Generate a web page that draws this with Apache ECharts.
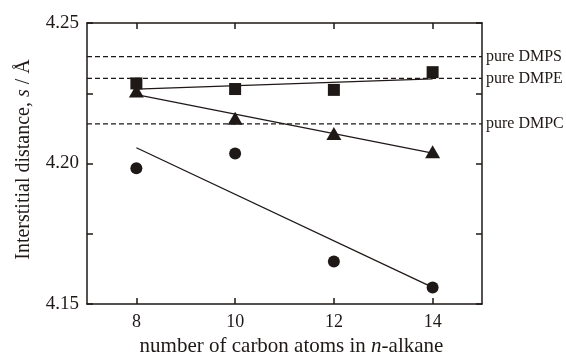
<!DOCTYPE html>
<html>
<head>
<meta charset="utf-8">
<script src="https://cdn.jsdelivr.net/npm/echarts@6/dist/echarts.min.js"></script>
<style>
  html, body { margin: 0; padding: 0; background: #fff; }
</style>
</head>
<body>
<div id="chart" style="width: 566px;height: 358px;"></div>
<script>
// carbon number of the n-alkane
const carbons = [8, 10, 12, 14];
const xTicks = [8, 10, 12, 14];
const yLabels = [4.15, 4.20, 4.25];

// interstitial distance s (Å)
const dmpeValues = [4.2285, 4.2265, 4.2262, 4.2325];   // squares
const dmpcValues = [4.2258, 4.2161, 4.2107, 4.2042];   // triangles
const dmpsValues = [4.1983, 4.2036, 4.1651, 4.1559];   // circles

// fitted lines, value at carbon 8 and 14
const fitX = [8, 14];
const dmpeFit = [4.2265, 4.2301];
const dmpcFit = [4.2245, 4.2037];
const dmpsFit = [4.2056, 4.1559];

// pure lipid references, drawn across the whole axis
const pureNames = ['pure DMPS', 'pure DMPE', 'pure DMPC'];
const pureValues = [4.238, 4.2303, 4.2141];
const pureSpan = [7, 15];

const ink = '#1e1816';
const font = "'Liberation Serif', 'Times New Roman', serif";

function pairs(xs, ys) {
  return xs.map((x, i) => [x, ys[i]]);
}

let chart = echarts.init(document.getElementById('chart'));

let axisLine = {show: true, lineStyle: {color: ink, width: 1.5}};
let inTick = {show: true, inside: true, length: 6, lineStyle: {color: ink, width: 1.5}};

let pureSeries = pureNames.map((name, i) => ({
  name: name,
  type: 'line',
  data: pureSpan.map(x => [x, pureValues[i]]),
  symbol: 'none',
  silent: true,
  lineStyle: {color: ink, type: [5, 3], width: 1.2},
  endLabel: {show: true, formatter: name, color: ink, fontFamily: font, fontSize: 16, distance: 4},
  z: 1
}));

let option = {
  backgroundColor: '#fff',
  animation: false,
  grid: {left: 87, right: 84, top: 23, bottom: 54, outerBoundsMode: 'none'},
  xAxis: [
    {
      type: 'value', min: 7, max: 15, interval: 1,
      name: 'number of carbon atoms in {i|n}-alkane',
      nameLocation: 'middle', nameGap: 32,
      nameTextStyle: {
        color: ink, fontFamily: font, fontSize: 21, padding: [0, 0, 0, 14],
        rich: {i: {fontStyle: 'italic', fontFamily: font, fontSize: 21, color: ink}}
      },
      axisLine: axisLine,
      axisTick: Object.assign({customValues: xTicks}, inTick),
      axisLabel: {customValues: xTicks, color: ink, fontFamily: font, fontSize: 18, margin: 9},
      splitLine: {show: false}
    },
    {
      type: 'value', min: 7, max: 15, interval: 1, position: 'top',
      axisLine: axisLine,
      axisTick: Object.assign({customValues: xTicks}, inTick),
      axisLabel: {show: false},
      splitLine: {show: false}
    }
  ],
  yAxis: [
    {
      type: 'value', min: 4.15, max: 4.25, interval: 0.025,
      name: 'Interstitial distance, {i|s} / Å',
      nameLocation: 'middle', nameGap: 53,
      nameTextStyle: {
        color: ink, fontFamily: font, fontSize: 20, padding: [0, 0, 0, 8],
        rich: {i: {fontStyle: 'italic', fontFamily: font, fontSize: 20, color: ink}}
      },
      axisLine: axisLine,
      axisTick: inTick,
      axisLabel: {
        color: ink, fontFamily: font, fontSize: 19, margin: 8,
        formatter: function (value) {
          let v = Math.round(value * 1000);
          return yLabels.some(l => Math.round(l * 1000) === v) ? value.toFixed(2) : '';
        }
      },
      splitLine: {show: false}
    },
    {
      type: 'value', min: 4.15, max: 4.25, interval: 0.025, position: 'right',
      axisLine: axisLine,
      axisTick: inTick,
      axisLabel: {show: false},
      splitLine: {show: false}
    }
  ],
  series: pureSeries.concat([
    {type: 'line', data: pairs(fitX, dmpeFit), symbol: 'none', lineStyle: {color: ink, width: 1.3}, z: 2},
    {type: 'line', data: pairs(fitX, dmpcFit), symbol: 'none', lineStyle: {color: ink, width: 1.3}, z: 2},
    {type: 'line', data: pairs(fitX, dmpsFit), symbol: 'none', lineStyle: {color: ink, width: 1.3}, z: 2},
    {type: 'scatter', data: pairs(carbons, dmpeValues), symbol: 'rect', symbolSize: 12, itemStyle: {color: ink, opacity: 1}, z: 3},
    {type: 'scatter', data: pairs(carbons, dmpcValues), symbol: 'triangle', symbolSize: [15, 13], itemStyle: {color: ink, opacity: 1}, z: 3},
    {type: 'scatter', data: pairs(carbons, dmpsValues), symbol: 'circle', symbolSize: 12, itemStyle: {color: ink, opacity: 1}, z: 3}
  ])
};
chart.setOption(option);
</script>
</body>
</html>
